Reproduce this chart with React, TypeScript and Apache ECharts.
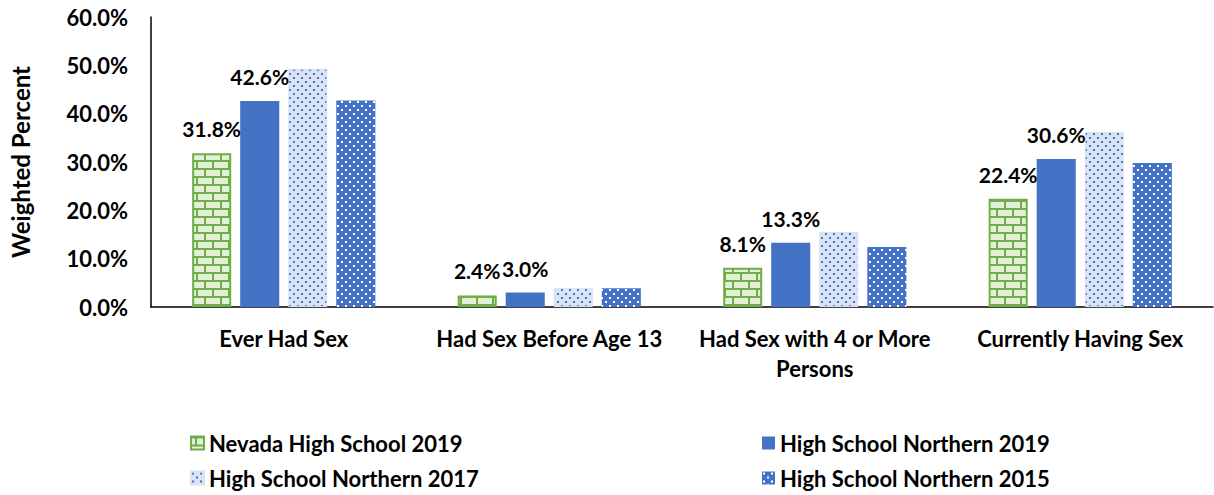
import React, { useEffect, useRef } from "react";
import * as echarts from "echarts";

const categories = [
  "Ever Had Sex",
  "Had Sex Before Age 13",
  "Had Sex with 4 or More\nPersons",
  "Currently Having Sex",
];
const seriesNames = [
  "Nevada High School 2019",
  "High School Northern 2019",
  "High School Northern 2017",
  "High School Northern 2015",
];
const nevada2019 = [31.8, 2.4, 8.1, 22.4];
const northern2019 = [42.6, 3.0, 13.3, 30.6];
const northern2017 = [49.3, 3.9, 15.5, 36.2];
const northern2015 = [42.7, 3.9, 12.4, 29.8];
const yTicks = [0, 10, 20, 30, 40, 50, 60];

const FONT = "Lato, 'Noto Sans', sans-serif";

function makeCanvas(w: number, h: number, draw: (ctx: CanvasRenderingContext2D) => void) {
  const c = document.createElement("canvas");
  c.width = w;
  c.height = h;
  const ctx = c.getContext("2d")!;
  draw(ctx);
  return c;
}

export default function App() {
  const ref = useRef<HTMLDivElement>(null);
  useEffect(() => {
    if (!ref.current) return;
    const chart = echarts.init(ref.current, null, { renderer: "svg" });

    const brick = makeCanvas(16, 16, (ctx) => {
      ctx.fillStyle = "#E2F0D9";
      ctx.fillRect(0, 0, 16, 16);
      ctx.fillStyle = "#70AD47";
      ctx.fillRect(0, 0, 16, 2);
      ctx.fillRect(0, 8, 16, 2);
      ctx.fillRect(4, 0, 2, 8);
      ctx.fillRect(12, 8, 2, 8);
    });
    const lightDots = makeCanvas(8, 8, (ctx) => {
      ctx.fillStyle = "#DAE3F3";
      ctx.fillRect(0, 0, 8, 8);
      ctx.fillStyle = "#4472C4";
      ctx.fillRect(1, 1, 2, 2);
      ctx.fillRect(5, 5, 2, 2);
    });
    const darkDots = makeCanvas(8, 8, (ctx) => {
      ctx.fillStyle = "#4472C4";
      ctx.fillRect(0, 0, 8, 8);
      ctx.fillStyle = "#FFFFFF";
      ctx.fillRect(1, 1, 2, 2);
      ctx.fillRect(5, 5, 2, 2);
    });

    const pat = (c: HTMLCanvasElement) => ({
      image: c.toDataURL(),
      repeat: "repeat",
      imageWidth: c.width,
      imageHeight: c.height,
    });

    const labelStyle = {
      show: true,
      position: "top",
      distance: 14,
      fontFamily: FONT,
      fontWeight: "bold",
      fontSize: 21,
      color: "#000",
      formatter: (p: any) => `${Number(p.value).toFixed(1)}%`,
    };

    const datasets = [nevada2019, northern2019, northern2017, northern2015];
    const styles: any[] = [
      { color: pat(brick), borderColor: "#70AD47", borderWidth: 2 },
      { color: "#4472C4" },
      { color: pat(lightDots), borderColor: "#DAE3F3", borderWidth: 1 },
      { color: pat(darkDots) },
    ];

    const series = datasets.map((d, i) => ({
      name: seriesNames[i],
      type: "bar",
      data: d,
      barGap: "23%",
      barCategoryGap: "31%",
      itemStyle: styles[i],
      label: i < 2 ? labelStyle : { show: false },
    }));

    const legendText = {
      fontFamily: FONT,
      fontWeight: "bold",
      fontSize: 22,
      color: "#000",
    };
    const legendPos = [
      { left: 190, top: 432 },
      { left: 762, top: 432 },
      { left: 190, top: 467 },
      { left: 762, top: 467 },
    ];
    const legends = legendPos.map((p, i) => ({
      left: p.left,
      top: p.top,
      padding: 0,
      itemWidth: 13,
      itemHeight: 13,
      icon: "rect",
      data: [seriesNames[i]],
      textStyle: legendText,
    }));

    chart.setOption({
      animation: false,
      backgroundColor: "#fff",
      grid: { left: 151, right: 1, top: 17, bottom: 188, containLabel: false },
      legend: legends,
      xAxis: {
        type: "category",
        data: categories,
        axisLine: { lineStyle: { color: "#000", width: 1.5 } },
        axisTick: { show: false },
        axisLabel: {
          fontFamily: FONT,
          fontWeight: "bold",
          fontSize: 22,
          color: "#000",
          margin: 16,
          lineHeight: 30,
          interval: 0,
        },
      },
      yAxis: {
        type: "value",
        min: yTicks[0],
        max: yTicks[yTicks.length - 1],
        interval: 10,
        name: "Weighted Percent",
        nameLocation: "middle",
        nameRotate: 90,
        nameGap: 119,
        nameTextStyle: {
          fontFamily: FONT,
          fontWeight: "bold",
          fontSize: 24,
          color: "#000",
        },
        axisLine: { show: true, lineStyle: { color: "#000", width: 1.5 } },
        axisTick: { show: false },
        splitLine: { show: false },
        axisLabel: {
          fontFamily: FONT,
          fontWeight: "bold",
          fontSize: 22,
          color: "#000",
          margin: 23,
          formatter: (v: number) => `${v.toFixed(1)}%`,
        },
      },
      series,
    });
    return () => chart.dispose();
  }, []);
  return <div ref={ref} style={{ width: 1214, height: 495, position: "absolute", left: 0, top: 0 }} />;
}
